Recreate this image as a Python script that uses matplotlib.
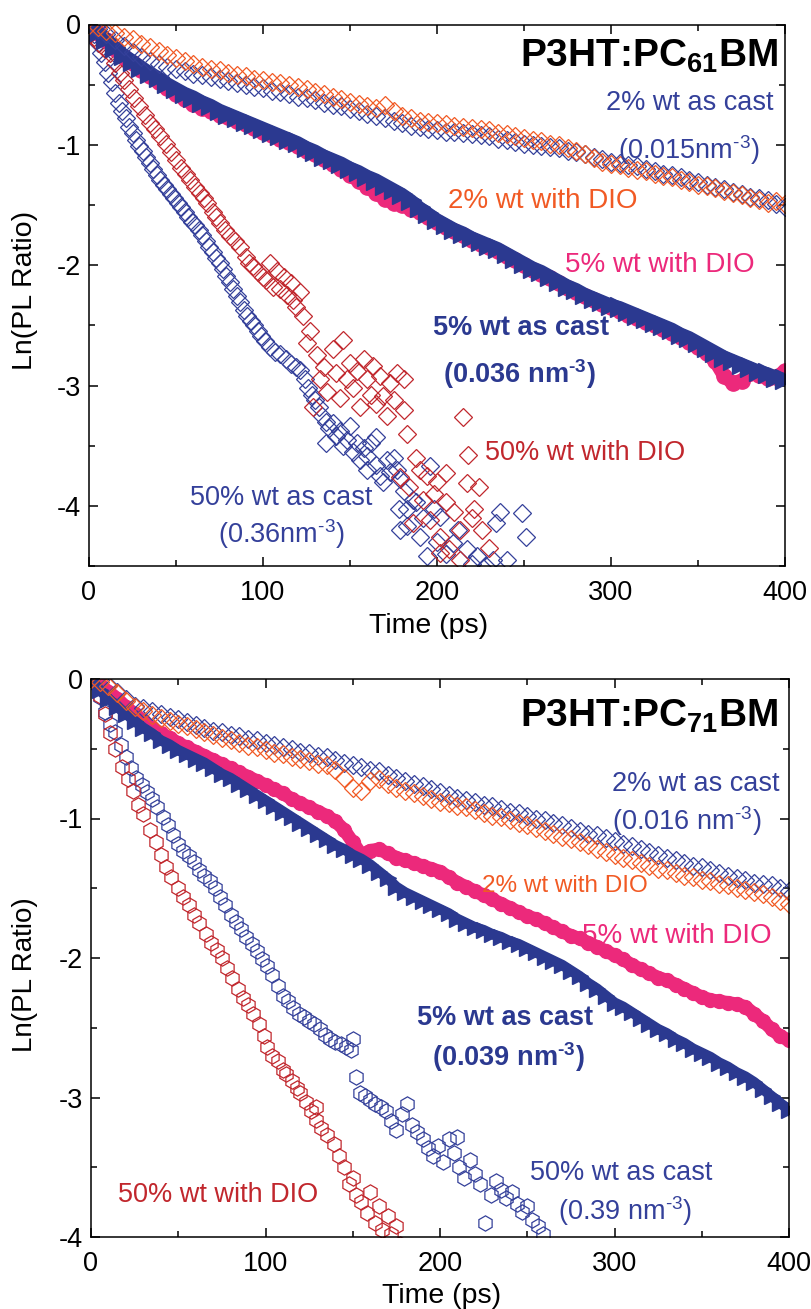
import numpy as np
import matplotlib
matplotlib.use("Agg")
import matplotlib.pyplot as plt
from matplotlib.ticker import MultipleLocator

plt.rcParams["font.family"] = ["Liberation Sans", "DejaVu Sans"]
plt.rcParams["mathtext.fontset"] = "custom"
plt.rcParams["mathtext.rm"] = "Liberation Sans"
plt.rcParams["mathtext.bf"] = "Liberation Sans:bold"
plt.rcParams["mathtext.default"] = "regular"
plt.rcParams["axes.unicode_minus"] = False

W, H = 811, 1309
BLUE = "#34409A"
NAVY = "#2B3990"
ORANGE = "#F15A24"
PINK = "#EC297B"
RED = "#C1272D"
SUP = "$^{\u2010" + "3}$"  # hyphen rather than math minus, as in the original

# ---- data: sampled every 5 ps for the slow decays ----
time_5ps = np.arange(0, 401, 5)

# P3HT:PC61BM
pc61_2pct_cast = [
    0.00, -0.04, -0.08, -0.13, -0.18, -0.23, -0.27, -0.30, -0.33, -0.35,
    -0.37, -0.39, -0.41, -0.42, -0.44, -0.45, -0.47, -0.49, -0.50, -0.52,
    -0.53, -0.55, -0.56, -0.58, -0.60, -0.61, -0.63, -0.65, -0.67, -0.68,
    -0.70, -0.72, -0.74, -0.76, -0.78, -0.80, -0.82, -0.84, -0.85, -0.87,
    -0.88, -0.89, -0.89, -0.90, -0.91, -0.92, -0.93, -0.95, -0.96, -0.98,
    -0.99, -1.00, -1.01, -1.02, -1.03, -1.05, -1.06, -1.08, -1.10, -1.12,
    -1.14, -1.15, -1.17, -1.18, -1.20, -1.22, -1.24, -1.25, -1.27, -1.29,
    -1.31, -1.33, -1.35, -1.37, -1.39, -1.41, -1.43, -1.44, -1.46, -1.49,
    -1.52,
]
pc61_2pct_dio = [
    0.00, -0.02, -0.05, -0.07, -0.10, -0.12, -0.16, -0.19, -0.22, -0.25,
    -0.28, -0.30, -0.33, -0.35, -0.37, -0.38, -0.40, -0.42, -0.43, -0.45,
    -0.46, -0.48, -0.49, -0.50, -0.52, -0.54, -0.56, -0.58, -0.60, -0.62,
    -0.64, -0.66, -0.68, -0.69, -0.67, -0.72, -0.76, -0.78, -0.80, -0.81,
    -0.82, -0.83, -0.84, -0.85, -0.86, -0.87, -0.88, -0.90, -0.91, -0.93,
    -0.94, -0.96, -0.97, -0.99, -1.00, -1.03, -1.05, -1.08, -1.11, -1.14,
    -1.16, -1.17, -1.19, -1.21, -1.22, -1.24, -1.26, -1.27, -1.29, -1.31,
    -1.33, -1.34, -1.36, -1.38, -1.40, -1.42, -1.44, -1.46, -1.48, -1.47,
    -1.49,
]
pc61_5pct_cast = [
    0.00, -0.06, -0.12, -0.19, -0.25, -0.30, -0.35, -0.40, -0.44, -0.49,
    -0.53, -0.57, -0.60, -0.64, -0.67, -0.71, -0.74, -0.77, -0.80, -0.83,
    -0.86, -0.89, -0.92, -0.95, -0.98, -1.02, -1.05, -1.09, -1.12, -1.15,
    -1.19, -1.22, -1.26, -1.29, -1.33, -1.37, -1.41, -1.46, -1.52, -1.57,
    -1.62, -1.66, -1.70, -1.73, -1.77, -1.80, -1.83, -1.86, -1.90, -1.94,
    -1.98, -2.02, -2.05, -2.09, -2.13, -2.17, -2.20, -2.24, -2.27, -2.30,
    -2.33, -2.35, -2.38, -2.41, -2.44, -2.47, -2.50, -2.53, -2.57, -2.60,
    -2.64, -2.68, -2.72, -2.76, -2.79, -2.82, -2.85, -2.88, -2.90, -2.93,
    -2.95,
]
pc61_5pct_dio = [
    0.00, -0.07, -0.13, -0.20, -0.27, -0.32, -0.38, -0.43, -0.48, -0.53,
    -0.58, -0.62, -0.66, -0.69, -0.72, -0.75, -0.77, -0.80, -0.83, -0.86,
    -0.89, -0.92, -0.95, -0.98, -1.01, -1.05, -1.08, -1.12, -1.16, -1.20,
    -1.25, -1.30, -1.35, -1.40, -1.45, -1.48, -1.50, -1.53, -1.56, -1.60,
    -1.64, -1.68, -1.72, -1.75, -1.79, -1.82, -1.85, -1.88, -1.92, -1.96,
    -2.00, -2.04, -2.07, -2.11, -2.15, -2.19, -2.22, -2.26, -2.29, -2.32,
    -2.35, -2.38, -2.41, -2.44, -2.47, -2.50, -2.53, -2.56, -2.60, -2.64,
    -2.68, -2.73, -2.80, -2.92, -2.98, -2.96, -2.90, -2.91, -2.94, -2.93,
    -2.88,
]
pc61_50pct_dio_t = [
    3, 6, 9, 12, 15, 18, 20, 23, 26, 29, 32, 35, 38, 41, 44, 47, 50, 53, 56, 58,
    61, 64, 66, 68, 71, 73, 75, 78, 81, 84, 87, 90, 92, 94, 97, 100, 102, 104,
    106, 108, 110, 112, 114, 116, 117, 119, 121, 123, 125, 127, 129, 131, 133,
    135, 137, 140, 142, 144, 146, 148, 150, 152, 154, 156, 158, 160, 162, 163,
    165, 167, 169, 171, 173, 175, 177, 179, 181, 181, 183, 184, 186, 188, 190,
    192, 194, 196, 198, 200, 202, 202, 205, 205, 207, 210, 213, 213, 215, 217,
    218, 220, 221, 224, 226, 230,
]
pc61_50pct_dio = [
    -0.10, -0.15, -0.20, -0.24, -0.32, -0.40, -0.46, -0.54, -0.61, -0.68,
    -0.75, -0.82, -0.87, -0.93, -0.99, -1.06, -1.13, -1.19, -1.24, -1.29,
    -1.35, -1.40, -1.44, -1.48, -1.56, -1.60, -1.65, -1.71, -1.76, -1.80,
    -1.85, -1.93, -1.98, -2.01, -2.06, -2.10, -2.12, -1.98, -2.18, -2.05,
    -2.20, -2.10, -2.25, -2.15, -2.29, -2.35, -2.22, -2.42, -2.65, -2.55,
    -3.18, -2.75, -2.95, -2.85, -3.05, -2.70, -2.90, -3.10, -2.62, -2.95,
    -2.81, -3.02, -2.88, -3.18, -2.78, -2.95, -3.08, -2.84, -3.15, -2.92,
    -3.09, -3.25, -2.98, -3.12, -2.90, -3.76, -2.95, -3.20, -3.40, -3.84,
    -4.14, -3.60, -3.70, -3.95, -3.75, -4.12, -3.90, -3.80, -4.26, -4.39,
    -3.73, -3.97, -4.36, -4.05, -4.20, -4.45, -3.26, -3.81, -3.58, -4.10,
    -4.03, -3.84, -4.20, -4.35,
]
pc61_50pct_cast_t = [
    3, 5, 7, 9, 11, 13, 15, 17, 19, 21, 23, 25, 27, 29, 31, 33, 35, 37, 39, 41,
    43, 45, 47, 49, 51, 53, 55, 57, 59, 61, 63, 65, 67, 69, 71, 73, 75, 77, 79,
    81, 83, 85, 87, 89, 91, 93, 95, 97, 99, 101, 104, 107, 110, 113, 116, 119,
    121, 124, 126, 128, 130, 132, 134, 136, 136, 138, 140, 142, 144, 146, 148,
    150, 152, 154, 156, 158, 160, 160, 162, 165, 165, 167, 169, 171, 173, 175,
    177, 178, 179, 179, 181, 183, 183, 186, 188, 190, 192, 194, 196, 198, 200,
    202, 205, 209, 212, 217, 220, 223, 228, 232, 234, 236, 240, 249, 251,
]
pc61_50pct_cast = [
    -0.08, -0.15, -0.24, -0.31, -0.40, -0.48, -0.57, -0.65, -0.72, -0.78,
    -0.85, -0.90, -0.96, -1.01, -1.05, -1.10, -1.15, -1.20, -1.25, -1.29,
    -1.33, -1.37, -1.41, -1.44, -1.48, -1.52, -1.56, -1.60, -1.64, -1.67,
    -1.71, -1.75, -1.80, -1.85, -1.89, -1.94, -1.98, -2.03, -2.09, -2.14,
    -2.20, -2.26, -2.31, -2.37, -2.42, -2.46, -2.50, -2.55, -2.59, -2.63,
    -2.68, -2.72, -2.74, -2.78, -2.82, -2.85, -2.87, -2.95, -3.02, -3.08,
    -3.12, -3.18, -3.25, -3.30, -3.48, -3.35, -3.31, -3.42, -3.38, -3.50,
    -3.45, -3.34, -3.55, -3.48, -3.62, -3.52, -3.59, -3.70, -3.48, -3.43,
    -3.66, -3.75, -3.80, -3.62, -3.72, -3.60, -3.70, -4.03, -3.78, -4.20,
    -3.88, -4.03, -4.17, -3.95, -3.97, -4.26, -4.10, -4.42, -3.67, -4.03,
    -4.30, -4.09, -4.40, -4.31, -4.20, -4.36, -4.48, -4.42, -4.50, -4.45,
    -4.14, -4.05, -4.45, -4.06, -4.26,
]

# P3HT:PC71BM
pc71_2pct_cast = [
    0.00, -0.01, -0.04, -0.09, -0.14, -0.19, -0.21, -0.23, -0.25, -0.27,
    -0.29, -0.31, -0.33, -0.35, -0.37, -0.38, -0.40, -0.41, -0.43, -0.44,
    -0.46, -0.47, -0.49, -0.50, -0.52, -0.53, -0.55, -0.56, -0.58, -0.60,
    -0.62, -0.63, -0.65, -0.66, -0.69, -0.71, -0.73, -0.75, -0.77, -0.79,
    -0.81, -0.83, -0.85, -0.87, -0.88, -0.90, -0.91, -0.93, -0.95, -0.96,
    -0.98, -1.00, -1.01, -1.03, -1.05, -1.07, -1.09, -1.11, -1.12, -1.14,
    -1.16, -1.18, -1.20, -1.22, -1.24, -1.26, -1.28, -1.30, -1.32, -1.34,
    -1.35, -1.37, -1.39, -1.41, -1.43, -1.44, -1.46, -1.47, -1.48, -1.50,
    -1.52,
]
pc71_2pct_dio = [
    0.00, -0.02, -0.05, -0.10, -0.16, -0.20, -0.23, -0.26, -0.28, -0.30,
    -0.32, -0.34, -0.36, -0.38, -0.40, -0.42, -0.44, -0.46, -0.48, -0.49,
    -0.51, -0.53, -0.54, -0.56, -0.57, -0.59, -0.61, -0.62, -0.65, -0.71,
    -0.78, -0.80, -0.73, -0.72, -0.75, -0.78, -0.80, -0.82, -0.84, -0.86,
    -0.88, -0.89, -0.91, -0.92, -0.94, -0.96, -0.98, -0.99, -1.01, -1.03,
    -1.05, -1.07, -1.09, -1.11, -1.13, -1.15, -1.17, -1.19, -1.22, -1.24,
    -1.26, -1.28, -1.30, -1.32, -1.34, -1.36, -1.37, -1.39, -1.41, -1.42,
    -1.44, -1.45, -1.47, -1.48, -1.50, -1.51, -1.53, -1.54, -1.56, -1.59,
    -1.61,
]
pc71_5pct_cast = [
    0.00, -0.08, -0.14, -0.20, -0.25, -0.30, -0.35, -0.39, -0.44, -0.47,
    -0.51, -0.54, -0.57, -0.60, -0.64, -0.68, -0.71, -0.75, -0.79, -0.83,
    -0.87, -0.91, -0.95, -0.99, -1.03, -1.07, -1.11, -1.15, -1.19, -1.22,
    -1.26, -1.29, -1.33, -1.38, -1.43, -1.49, -1.53, -1.56, -1.59, -1.62,
    -1.65, -1.68, -1.72, -1.75, -1.78, -1.80, -1.83, -1.85, -1.88, -1.90,
    -1.93, -1.96, -1.99, -2.02, -2.05, -2.09, -2.13, -2.18, -2.22, -2.27,
    -2.32, -2.35, -2.39, -2.43, -2.47, -2.51, -2.54, -2.58, -2.61, -2.65,
    -2.68, -2.71, -2.75, -2.78, -2.82, -2.85, -2.89, -2.94, -2.99, -3.04,
    -3.09,
]
pc71_5pct_dio = [
    0.00, -0.04, -0.09, -0.14, -0.20, -0.25, -0.30, -0.35, -0.39, -0.42,
    -0.46, -0.49, -0.52, -0.55, -0.58, -0.61, -0.64, -0.67, -0.70, -0.73,
    -0.76, -0.79, -0.82, -0.86, -0.89, -0.92, -0.95, -0.98, -1.02, -1.08,
    -1.17, -1.26, -1.23, -1.22, -1.25, -1.28, -1.30, -1.32, -1.34, -1.36,
    -1.38, -1.42, -1.46, -1.49, -1.52, -1.55, -1.58, -1.61, -1.64, -1.67,
    -1.70, -1.72, -1.75, -1.78, -1.81, -1.84, -1.86, -1.89, -1.92, -1.95,
    -1.98, -2.01, -2.05, -2.08, -2.11, -2.14, -2.16, -2.19, -2.22, -2.25,
    -2.28, -2.30, -2.31, -2.32, -2.33, -2.35, -2.40, -2.45, -2.51, -2.56,
    -2.59,
]
pc71_50pct_dio_t = [
    2, 5, 8, 11, 14, 18, 21, 24, 27, 30, 34, 37, 40, 43, 46, 50, 53, 56, 59,
    62, 66, 69, 72, 75, 78, 81, 84, 87, 90, 93, 96, 99, 101, 104, 107, 110,
    112, 115, 118, 120, 123, 126, 129, 129, 132, 135, 139, 142, 145, 148, 150,
    152, 155, 158, 160, 163, 165, 167, 170, 172, 175, 177,
]
pc71_50pct_dio = [
    -0.02, -0.12, -0.25, -0.39, -0.50, -0.63, -0.72, -0.80, -0.90, -0.97,
    -1.08, -1.17, -1.26, -1.35, -1.42, -1.50, -1.56, -1.62, -1.69, -1.75,
    -1.83, -1.89, -1.94, -2.00, -2.07, -2.14, -2.22, -2.29, -2.34, -2.40,
    -2.47, -2.56, -2.64, -2.70, -2.74, -2.80, -2.83, -2.88, -2.93, -2.97,
    -3.03, -3.10, -3.16, -3.07, -3.22, -3.27, -3.33, -3.42, -3.50, -3.62,
    -3.58, -3.70, -3.75, -3.83, -3.68, -3.90, -3.78, -3.95, -3.85, -3.98,
    -3.92, -4.05,
]
pc71_50pct_cast_t = [
    2, 5, 8, 11, 14, 17, 20, 23, 26, 29, 32, 35, 38, 41, 44, 47, 50, 53, 56,
    59, 62, 65, 68, 71, 74, 77, 80, 83, 86, 89, 92, 95, 98, 101, 104, 107, 110,
    113, 116, 119, 122, 125, 128, 131, 134, 137, 140, 143, 146, 149, 150, 152,
    154, 157, 160, 163, 166, 169, 172, 175, 178, 181, 184, 187, 190, 193, 196,
    199, 202, 205, 208, 210, 211, 214, 217, 220, 223, 226, 229, 232, 235, 238,
    241, 244, 247, 250, 253, 256, 259,
]
pc71_50pct_cast = [
    -0.03, -0.13, -0.24, -0.32, -0.38, -0.47, -0.56, -0.64, -0.71, -0.76,
    -0.81, -0.86, -0.92, -0.99, -1.05, -1.12, -1.18, -1.23, -1.27, -1.31,
    -1.37, -1.41, -1.45, -1.50, -1.56, -1.62, -1.69, -1.74, -1.79, -1.85,
    -1.90, -1.95, -2.01, -2.06, -2.12, -2.20, -2.27, -2.31, -2.36, -2.40,
    -2.42, -2.45, -2.47, -2.51, -2.55, -2.58, -2.60, -2.62, -2.64, -2.66,
    -2.58, -2.85, -2.97, -2.99, -3.02, -3.05, -3.07, -3.10, -3.17, -3.23,
    -3.12, -3.05, -3.20, -3.25, -3.30, -3.36, -3.42, -3.35, -3.46, -3.30,
    -3.40, -3.28, -3.50, -3.58, -3.45, -3.55, -3.62, -3.90, -3.70, -3.60,
    -3.66, -3.72, -3.68, -3.76, -3.82, -3.78, -3.88, -3.92, -3.98,
]


def put(fig, x, y, s, **kw):
    """Place text at reference pixel position (x from left, y = baseline from top)."""
    kw.setdefault("va", "baseline")
    fig.text(x / W, 1 - y / H, s, **kw)


def style_axes(ax, ymin):
    ax.set_xlim(0, 400)
    ax.set_ylim(ymin, 0)
    ax.xaxis.set_major_locator(MultipleLocator(100))
    ax.xaxis.set_minor_locator(MultipleLocator(50))
    ax.yaxis.set_major_locator(MultipleLocator(1))
    ax.yaxis.set_minor_locator(MultipleLocator(0.5))
    ax.tick_params(which="both", direction="in", top=True, right=True,
                   width=1.1, labelsize=19.5)
    ax.tick_params(which="major", length=6.5)
    ax.tick_params(which="minor", length=4.5)
    ax.tick_params(axis="x", pad=10)
    ax.tick_params(axis="y", pad=6)
    for sp in ax.spines.values():
        sp.set_linewidth(1.1)


fig = plt.figure(figsize=(W / 100, H / 100), dpi=100)
open_kw = dict(linestyle="none", markerfacecolor="none", markeredgewidth=0.9)

# ---------------- top panel: PC61BM ----------------
ax1 = fig.add_axes([89 / W, 1 - 566 / H, 696 / W, 541.5 / H])
ax1.plot(pc61_50pct_cast_t, pc61_50pct_cast, marker="D", ms=9,
         markeredgecolor=BLUE, **open_kw)
ax1.plot(pc61_50pct_dio_t, pc61_50pct_dio, marker="D", ms=9,
         markeredgecolor=RED, **open_kw)
ax1.plot(time_5ps, pc61_5pct_dio, color=PINK, lw=10, solid_capstyle="round")
ax1.plot(time_5ps, pc61_5pct_dio, "o", color=PINK, ms=11)
ax1.plot(time_5ps, pc61_5pct_cast, color=NAVY, lw=9)
ax1.plot(time_5ps, pc61_5pct_cast, ">", color=NAVY, ms=14)
ax1.plot(time_5ps, pc61_2pct_cast, marker="D", ms=9.5,
         markeredgecolor=BLUE, **open_kw)
ax1.plot(time_5ps, pc61_2pct_dio, marker="D", ms=9.5,
         markeredgecolor=ORANGE, **open_kw)
style_axes(ax1, -4.5)

put(fig, 778, 67, "P3HT:PC$_{61}$BM", fontsize=28, fontweight="bold", ha="right")
put(fig, 774, 110, "2% wt as cast", fontsize=19.5, color=BLUE, ha="right")
put(fig, 618, 159, "(0.015nm" + SUP + ")", fontsize=19.5, color=BLUE)
put(fig, 448, 208, "2% wt with DIO", fontsize=20, color=ORANGE)
put(fig, 565, 272, "5% wt with DIO", fontsize=20, color=PINK)
put(fig, 433, 335, "5% wt as cast", fontsize=19.5, color=NAVY, fontweight="bold")
put(fig, 443, 383, "(0.036 nm" + SUP + ")", fontsize=19.5, color=NAVY,
    fontweight="bold")
put(fig, 485, 460, "50% wt with DIO", fontsize=19.5, color=RED)
put(fig, 190, 505, "50% wt as cast", fontsize=19.5, color=BLUE)
put(fig, 218, 543, "(0.36nm" + SUP + ")", fontsize=19.5, color=BLUE)
put(fig, 429, 633, "Time (ps)", fontsize=20.5, ha="center")
put(fig, 25, 290, "Ln(PL Ratio)", fontsize=20.5, rotation=90,
    ha="center", va="center")

# ---------------- bottom panel: PC71BM ----------------
ax2 = fig.add_axes([91 / W, 1 - 1237 / H, 698 / W, 558 / H])
ax2.plot(pc71_50pct_cast_t, pc71_50pct_cast, marker="h", ms=11,
         markeredgecolor=BLUE, **open_kw)
ax2.plot(pc71_50pct_dio_t, pc71_50pct_dio, marker="h", ms=11,
         markeredgecolor=RED, **open_kw)
ax2.plot(time_5ps, pc71_5pct_dio, color=PINK, lw=9.5, solid_capstyle="round")
ax2.plot(time_5ps, pc71_5pct_dio, "o", color=PINK, ms=10)
ax2.plot(time_5ps, pc71_5pct_cast, color=NAVY, lw=7.5)
ax2.plot(time_5ps, pc71_5pct_cast, ">", color=NAVY, ms=12)
ax2.plot(time_5ps, pc71_2pct_cast, marker="D", ms=9,
         markeredgecolor=BLUE, **open_kw)
ax2.plot(time_5ps, pc71_2pct_dio, marker="D", ms=9,
         markeredgecolor=ORANGE, **open_kw)
style_axes(ax2, -4)

put(fig, 778, 727, "P3HT:PC$_{71}$BM", fontsize=28, fontweight="bold", ha="right")
put(fig, 780, 791, "2% wt as cast", fontsize=19.5, color=BLUE, ha="right")
put(fig, 612, 830, "(0.016 nm" + SUP + ")", fontsize=19.5, color=BLUE)
put(fig, 482, 892, "2% wt with DIO", fontsize=17.5, color=ORANGE)
put(fig, 582, 943, "5% wt with DIO", fontsize=20, color=PINK)
put(fig, 417, 1025, "5% wt as cast", fontsize=19.5, color=NAVY, fontweight="bold")
put(fig, 432, 1066, "(0.039 nm" + SUP + ")", fontsize=19.5, color=NAVY,
    fontweight="bold")
put(fig, 530, 1180, "50% wt as cast", fontsize=19.5, color=BLUE)
put(fig, 558, 1220, "(0.39 nm" + SUP + ")", fontsize=19.5, color=BLUE)
put(fig, 118, 1202, "50% wt with DIO", fontsize=19.5, color=RED)
put(fig, 442, 1303, "Time (ps)", fontsize=20.5, ha="center")
put(fig, 25, 975, "Ln(PL Ratio)", fontsize=20, rotation=90,
    ha="center", va="center")

fig.savefig("out.png", dpi=100)
